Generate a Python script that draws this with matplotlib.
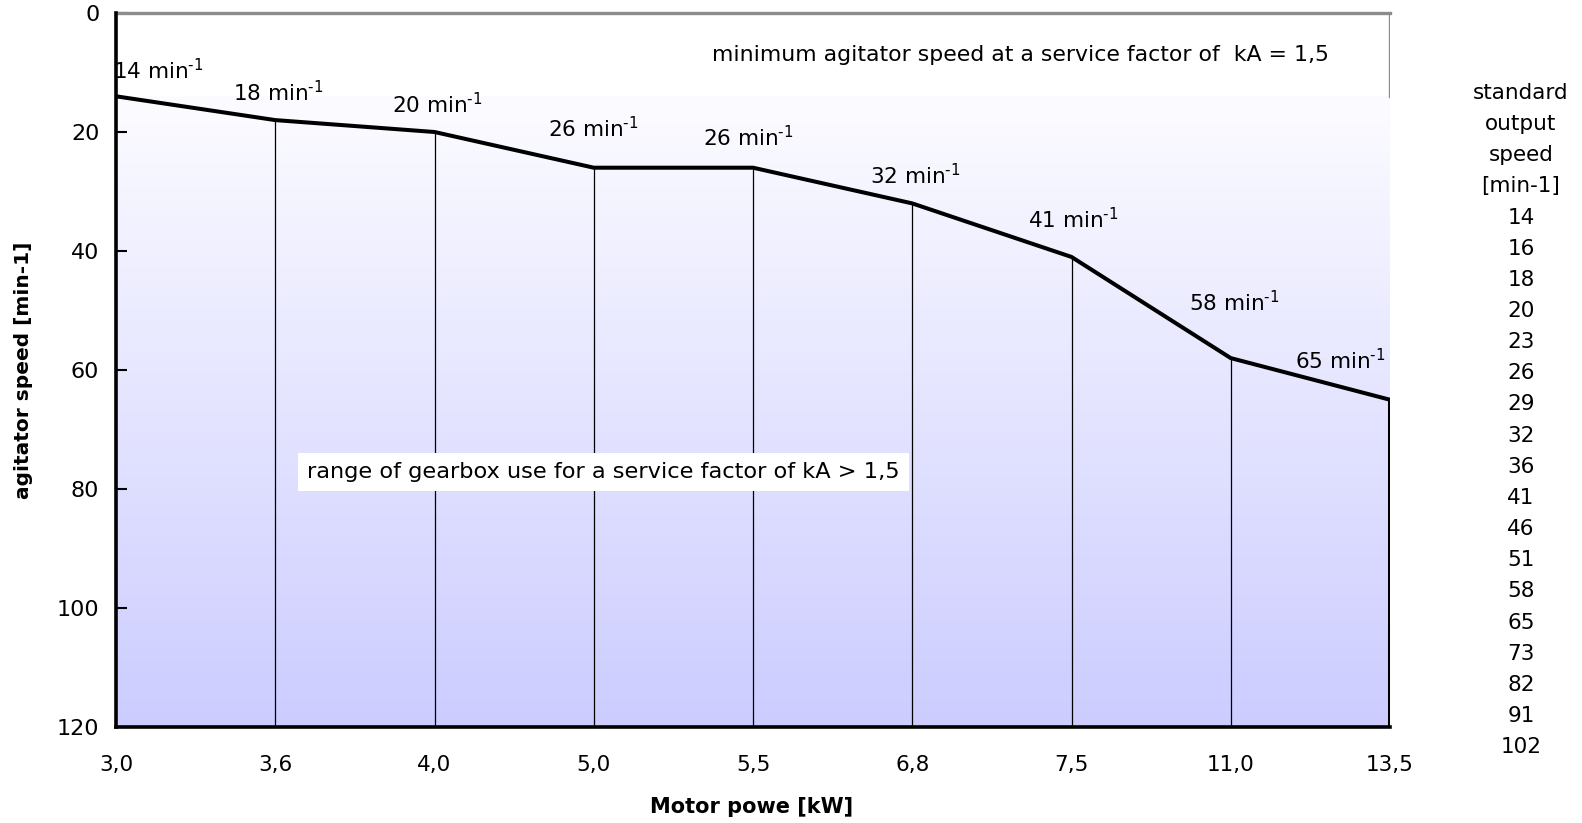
import numpy as np
import matplotlib
matplotlib.use("Agg")
import matplotlib.pyplot as plt
from matplotlib.colors import LinearSegmentedColormap

plt.rcParams['font.family'] = ['DejaVu Sans']
plt.rcParams['mathtext.fontset'] = 'custom'
plt.rcParams['mathtext.rm'] = 'DejaVu Sans'
plt.rcParams['mathtext.it'] = 'DejaVu Sans'

# ---- data ----
motor_power = ["3,0", "3,6", "4,0", "5,0", "5,5", "6,8", "7,5", "11,0", "13,5"]
agitator_speed = [14, 18, 20, 26, 26, 32, 41, 58, 65]
standard_speeds = [14, 16, 18, 20, 23, 26, 29, 32, 36, 41, 46, 51, 58, 65, 73, 82, 91, 102]
yticks = [0, 20, 40, 60, 80, 100, 120]

# label placement (data coords) for the speed annotations
label_pos = [(0.265, 9.7), (1.02, 13.4), (2.02, 15.4), (3.0, 19.4), (3.97, 21.0),
             (5.02, 27.3), (6.01, 34.8), (7.02, 48.7), (7.69, 58.4)]

W, H = 1582, 823
fig = plt.figure(figsize=(W / 100, H / 100), dpi=100)
ax = fig.add_axes([116 / W, 1 - 727 / H, (1390 - 116) / W, (727 - 13) / H])

n = len(motor_power)
x = np.arange(n)
ax.set_xlim(0, n - 1)
ax.set_ylim(120, 0)

# gradient background band
cmap = LinearSegmentedColormap.from_list("lav", ["#FCFCFF", "#CCCCFF"])
grad = np.linspace(0, 1, 256).reshape(-1, 1)
top_band = agitator_speed[0]
ax.imshow(grad, cmap=cmap, extent=(0, n - 1, 120, top_band), aspect='auto',
          zorder=0, interpolation='bilinear')

# main curve
ax.plot(x, agitator_speed, color='black', lw=2.9, zorder=3, solid_joinstyle='miter')
# vertical lines down to the bottom
for xi, v in zip(x[1:-1], agitator_speed[1:-1]):
    ax.plot([xi, xi], [v, 120], color='black', lw=0.9, zorder=2)
ax.plot([x[-1], x[-1]], [agitator_speed[-1], 120], color='black', lw=2.9, zorder=3)
# gray frame top-right
ax.plot([x[-1], x[-1]], [0, top_band], color='#8C8C8C', lw=2.4, zorder=3)

ax.spines['right'].set_visible(False)
ax.spines['top'].set_color('#8C8C8C')
ax.spines['top'].set_linewidth(2.4)
ax.spines['left'].set_linewidth(2.6)
ax.spines['bottom'].set_linewidth(2.6)
ax.spines['left'].set_zorder(4)
ax.spines['bottom'].set_zorder(4)

ax.set_yticks(yticks)
ax.set_yticklabels([str(t) for t in yticks])
ax.tick_params(axis='y', direction='in', length=8, width=1.5, pad=12, labelsize=16)
ax.set_xticks(x)
ax.set_xticklabels(motor_power)
ax.tick_params(axis='x', length=0, pad=20, labelsize=15.5)

for (lx, ly), v in zip(label_pos, agitator_speed):
    ax.text(lx, ly, f"{v} min$^{{\u2010 1}}$", ha='center', va='center', fontsize=15.5, zorder=5)

ax.text(5.68, 7.1, "minimum agitator speed at a service factor of  kA = 1,5",
        ha='center', va='center', fontsize=15.8, zorder=5)
ax.text(3.06, 77.2, "range of gearbox use for a service factor of kA > 1,5",
        ha='center', va='center', fontsize=16.2, zorder=5,
        bbox=dict(facecolor='white', edgecolor='none', pad=6.5))

ax.set_ylabel("agitator speed [min-1]", fontsize=14.5, fontweight='bold')
ax.yaxis.set_label_coords((33 - 116) / (1390 - 116), 0.5)
fig.text(752 / W, 1 - 807 / H, "Motor powe [kW]", ha='center', va='center',
         fontsize=15, fontweight='bold')

# right column
header = ["standard", "output", "speed", "[min-1]"]
lines = header + [str(s) for s in standard_speeds]
for i, t in enumerate(lines):
    fig.text(1521 / W, 1 - (93 + 31.15 * i) / H, t, ha='center', va='center', fontsize=15.5)

fig.savefig("out.png", dpi=100)
